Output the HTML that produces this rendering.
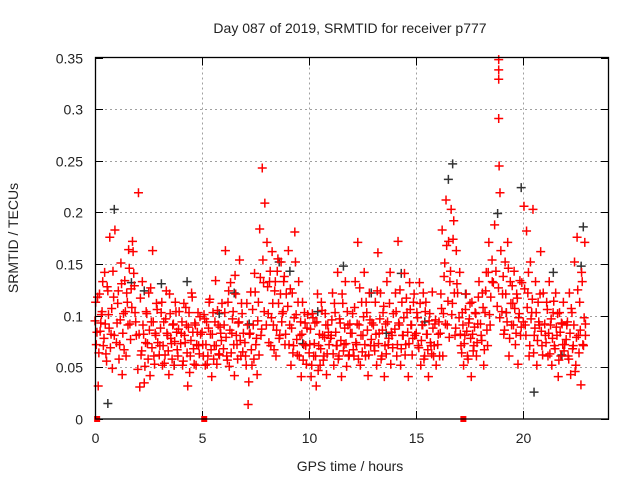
<!DOCTYPE html>
<html><head><meta charset="utf-8"><style>
body{margin:0;background:#fff}
svg{display:block;font-family:"Liberation Sans",sans-serif}
</style></head><body>
<svg id="chart" width="640" height="480"></svg>
<script>
const xTicks=[0,5,10,15,20];
const yTicks=[0,0.05,0.1,0.15,0.2,0.25,0.3,0.35];
const yTickLabels=["0","0.05","0.1","0.15","0.2","0.25","0.3","0.35"];
const redHours=[
0.03,0.09,0.15,0.21,0.27,0.33,0.39,0.45,0.51,0.57,0.63,0.69,0.75,0.81,0.87,0.93,
1.03,1.09,1.15,1.21,1.27,1.33,1.39,1.45,1.51,1.57,1.63,1.69,1.75,1.81,1.87,1.93,
2.03,2.09,2.15,2.21,2.27,2.33,2.39,2.45,2.51,2.57,2.63,2.69,2.75,2.81,2.87,2.93,
3.03,3.09,3.15,3.21,3.27,3.33,3.39,3.45,3.51,3.57,3.63,3.69,3.75,3.81,3.87,3.93,
4.03,4.09,4.15,4.21,4.27,4.33,4.39,4.45,4.51,4.57,4.63,4.69,4.75,4.81,4.87,4.93,
5.03,5.09,5.15,5.21,5.27,5.33,5.39,5.45,5.51,5.57,5.63,5.69,5.75,5.81,5.87,5.93,
6.03,6.09,6.15,6.21,6.27,6.33,6.39,6.45,6.51,6.57,6.63,6.69,6.75,6.81,6.87,6.93,
7.03,7.09,7.15,7.21,7.27,7.33,7.39,7.45,7.51,7.57,7.63,7.69,7.75,7.81,7.87,7.93,
8.03,8.09,8.15,8.21,8.27,8.33,8.39,8.45,8.51,8.57,8.63,8.69,8.75,8.81,8.87,8.93,
9.03,9.09,9.15,9.21,9.27,9.33,9.39,9.45,9.51,9.57,9.63,9.69,9.75,9.81,9.87,9.93,
10.03,10.09,10.15,10.21,10.27,10.33,10.39,10.45,10.51,10.57,10.63,10.69,10.75,10.81,10.87,10.93,
11.03,11.09,11.15,11.21,11.27,11.33,11.39,11.45,11.51,11.57,11.63,11.69,11.75,11.81,11.87,11.93,
12.03,12.09,12.15,12.21,12.27,12.33,12.39,12.45,12.51,12.57,12.63,12.69,12.75,12.81,12.87,12.93,
13.03,13.09,13.15,13.21,13.27,13.33,13.39,13.45,13.51,13.57,13.63,13.69,13.75,13.81,13.87,13.93,
14.03,14.09,14.15,14.21,14.27,14.33,14.39,14.45,14.51,14.57,14.63,14.69,14.75,14.81,14.87,14.93,
15.03,15.09,15.15,15.21,15.27,15.33,15.39,15.45,15.51,15.57,15.63,15.69,15.75,15.81,15.87,15.93,
16.03,16.09,16.15,16.21,16.27,16.33,16.39,16.45,16.51,16.57,16.63,16.69,16.75,16.81,16.87,16.93,
17.03,17.09,17.15,17.21,17.27,17.33,17.39,17.45,17.51,17.57,17.63,17.69,17.75,17.81,17.87,17.93,
18.03,18.09,18.15,18.21,18.27,18.33,18.39,18.45,18.55,18.85,18.85,18.85,18.85,18.87,18.91,18.95,
19.03,19.09,19.15,19.21,19.27,19.33,19.39,19.45,19.51,19.57,19.63,19.69,19.75,19.81,19.87,19.93,
20.03,20.09,20.15,20.21,20.27,20.33,20.39,20.45,20.51,20.57,20.63,20.69,20.75,20.81,20.87,20.93,
21.03,21.09,21.15,21.21,21.27,21.33,21.39,21.45,21.51,21.57,21.63,21.69,21.75,21.81,21.87,21.93,
22.03,22.09,22.15,22.21,22.27,22.33,22.39,22.45,22.51,22.57,22.63,22.69,22.75,22.81,22.87,22.9];
const redValues=[
.113,.084,.032,.121,.093,.104,.071,.142,.063,.128,.101,.176,.082,.049,.118,.183,
.093,.124,.072,.151,.043,.102,.134,.061,.113,.164,.092,.126,.172,.141,.103,.081,
.219,.031,.062,.133,.082,.051,.104,.073,.122,.042,.094,.163,.061,.083,.112,.074,
.071,.103,.052,.094,.062,.124,.081,.043,.102,.073,.091,.052,.113,.084,.061,.104,
.083,.052,.112,.074,.091,.032,.103,.061,.122,.084,.053,.091,.072,.103,.063,.082,
.072,.101,.052,.094,.061,.113,.082,.041,.103,.071,.134,.053,.091,.062,.083,.112,
.091,.163,.061,.113,.051,.132,.083,.104,.042,.121,.072,.093,.154,.061,.102,.083,
.061,.112,.014,.082,.123,.052,.091,.141,.072,.043,.113,.184,.081,.243,.132,.209,
.171,.102,.133,.071,.162,.091,.124,.061,.143,.112,.081,.152,.102,.133,.072,.121,
.163,.091,.052,.122,.071,.181,.101,.062,.133,.081,.041,.113,.072,.093,.053,.101,
.072,.041,.102,.061,.093,.032,.121,.071,.052,.113,.081,.061,.102,.043,.091,.072,
.081,.122,.052,.103,.071,.142,.061,.093,.041,.112,.072,.133,.051,.091,.062,.083,
.102,.061,.133,.072,.171,.091,.052,.113,.081,.142,.061,.103,.042,.122,.071,.093,
.071,.113,.052,.161,.083,.122,.061,.103,.041,.092,.133,.072,.112,.053,.081,.102,
.122,.061,.172,.091,.052,.113,.081,.141,.072,.103,.041,.132,.091,.062,.113,.081,
.103,.071,.132,.052,.091,.122,.061,.113,.082,.041,.102,.071,.123,.061,.092,.052,
.082,.061,.121,.183,.102,.151,.212,.091,.172,.133,.203,.112,.192,.081,.163,.122,
.142,.071,.103,.052,.081,.121,.061,.093,.112,.041,.082,.071,.103,.061,.092,.133,
.081,.122,.052,.103,.142,.071,.171,.091,.133,.348,.338,.329,.291,.245,.219,.163,
.121,.082,.152,.103,.171,.061,.133,.091,.112,.143,.072,.121,.053,.102,.081,.132,
.206,.091,.182,.122,.061,.152,.103,.203,.081,.133,.052,.113,.091,.162,.071,.122,
.081,.113,.061,.133,.091,.052,.103,.071,.122,.081,.041,.103,.061,.092,.113,.072,
.091,.061,.122,.043,.103,.071,.152,.052,.176,.081,.113,.033,.133,.071,.171,.092];
const redHours2=[
0.00,0.06,0.12,0.18,0.24,0.30,0.36,0.42,0.48,0.54,0.60,0.66,0.72,0.78,0.84,0.90,
1.00,1.06,1.12,1.18,1.24,1.30,1.36,1.42,1.48,1.54,1.60,1.66,1.72,1.78,1.84,1.90,
2.00,2.06,2.12,2.18,2.24,2.30,2.36,2.42,2.48,2.54,2.60,2.66,2.72,2.78,2.84,2.90,
3.00,3.06,3.12,3.18,3.24,3.30,3.36,3.42,3.48,3.54,3.60,3.66,3.72,3.78,3.84,3.90,
4.00,4.06,4.12,4.18,4.24,4.30,4.36,4.42,4.48,4.54,4.60,4.66,4.72,4.78,4.84,4.90,
5.00,5.06,5.12,5.18,5.24,5.30,5.36,5.42,5.48,5.54,5.60,5.66,5.72,5.78,5.84,5.90,
6.00,6.06,6.12,6.18,6.24,6.30,6.36,6.42,6.48,6.54,6.60,6.66,6.72,6.78,6.84,6.90,
7.00,7.06,7.12,7.18,7.24,7.30,7.36,7.42,7.48,7.54,7.60,7.66,7.72,7.78,7.84,7.90,
8.00,8.06,8.12,8.18,8.24,8.30,8.36,8.42,8.48,8.54,8.60,8.66,8.72,8.78,8.84,8.90,
9.00,9.06,9.12,9.18,9.24,9.30,9.36,9.42,9.48,9.54,9.60,9.66,9.72,9.78,9.84,9.90,
10.00,10.06,10.12,10.18,10.24,10.30,10.36,10.42,10.48,10.54,10.60,10.66,10.72,10.78,10.84,10.90,
11.00,11.06,11.12,11.18,11.24,11.30,11.36,11.42,11.48,11.54,11.60,11.66,11.72,11.78,11.84,11.90,
12.00,12.06,12.12,12.18,12.24,12.30,12.36,12.42,12.48,12.54,12.60,12.66,12.72,12.78,12.84,12.90,
13.00,13.06,13.12,13.18,13.24,13.30,13.36,13.42,13.48,13.54,13.60,13.66,13.72,13.78,13.84,13.90,
14.00,14.06,14.12,14.18,14.24,14.30,14.36,14.42,14.48,14.54,14.60,14.66,14.72,14.78,14.84,14.90,
15.00,15.06,15.12,15.18,15.24,15.30,15.36,15.42,15.48,15.54,15.60,15.66,15.72,15.78,15.84,15.90,
16.00,16.06,16.12,16.18,16.24,16.30,16.36,16.42,16.48,16.54,16.60,16.66,16.72,16.78,16.84,16.90,
17.00,17.06,17.12,17.18,17.24,17.30,17.36,17.42,17.48,17.54,17.60,17.66,17.72,17.78,17.84,17.90,
18.00,18.06,18.12,18.18,18.24,18.30,18.36,18.42,18.48,18.54,18.60,18.66,18.72,18.78,18.84,18.90,
19.00,19.06,19.12,19.18,19.24,19.30,19.36,19.42,19.48,19.54,19.60,19.66,19.72,19.78,19.84,19.90,
20.00,20.06,20.12,20.18,20.24,20.30,20.36,20.42,20.48,20.54,20.60,20.66,20.72,20.78,20.84,20.90,
21.00,21.06,21.12,21.18,21.24,21.30,21.36,21.42,21.48,21.54,21.60,21.66,21.72,21.78,21.84,21.90,
22.00,22.06,22.12,22.18,22.24,22.30,22.36,22.42,22.48,22.54,22.60,22.66,22.72,22.78,22.84,22.90];
const redValues2=[
.095,.072,.118,.064,.085,.101,.133,.078,.092,.056,.124,.088,.069,.107,.143,.081,
.074,.112,.058,.096,.131,.083,.067,.104,.122,.091,.146,.077,.108,.162,.129,.094,
.048,.082,.117,.066,.091,.035,.074,.102,.058,.086,.127,.069,.094,.053,.081,.106,
.062,.088,.113,.071,.054,.097,.083,.066,.121,.078,.058,.092,.075,.104,.067,.087,
.073,.094,.056,.081,.108,.064,.089,.045,.076,.118,.068,.093,.052,.084,.071,.099,
.084,.061,.097,.072,.053,.088,.116,.067,.082,.058,.094,.071,.105,.063,.089,.076,
.068,.103,.079,.057,.124,.086,.064,.097,.072,.139,.081,.058,.094,.076,.112,.065,
.074,.052,.091,.036,.083,.067,.106,.058,.123,.078,.095,.062,.137,.087,.154,.104,
.091,.128,.074,.143,.098,.112,.067,.133,.086,.155,.078,.121,.094,.104,.138,.082,
.109,.072,.126,.088,.064,.098,.152,.077,.113,.061,.094,.082,.057,.103,.071,.088,
.064,.087,.052,.098,.073,.061,.094,.047,.082,.068,.105,.057,.079,.091,.063,.084,
.078,.096,.063,.112,.084,.071,.058,.097,.076,.121,.066,.088,.073,.104,.061,.092,
.083,.067,.108,.074,.092,.058,.127,.081,.065,.099,.072,.113,.086,.062,.096,.077,
.091,.066,.082,.124,.073,.097,.058,.086,.109,.071,.063,.094,.078,.142,.084,.069,
.087,.104,.072,.093,.125,.068,.081,.098,.062,.117,.084,.073,.106,.091,.078,.121,
.083,.098,.069,.112,.076,.091,.058,.104,.082,.067,.095,.074,.063,.088,.071,.096,
.072,.094,.083,.107,.061,.138,.092,.168,.114,.079,.143,.101,.174,.122,.088,.131,
.098,.082,.064,.091,.073,.106,.085,.058,.097,.078,.113,.066,.089,.102,.074,.118,
.092,.076,.108,.067,.124,.086,.142,.101,.118,.154,.132,.188,.143,.109,.127,.098,
.104,.138,.086,.121,.094,.146,.078,.112,.129,.091,.107,.083,.117,.098,.134,.089,
.094,.126,.081,.108,.142,.071,.097,.116,.064,.088,.103,.076,.094,.121,.085,.062,
.092,.074,.106,.083,.063,.097,.078,.114,.068,.089,.102,.057,.084,.093,.072,.066,
.077,.094,.058,.083,.107,.068,.091,.046,.079,.125,.064,.086,.142,.072,.098,.081];
const blackHours=[0.9,2.3,3.1,4.3,6.5,8.6,9.1,11.6,12.9,14.3,16.5,16.7,17.3,18.8,19.9,20.5,21.4,22.8,22.7,0.6,1.7,5.8,7.2,10.4,13.6,15.4,19.2,21.8,3.7,9.7];
const blackValues=[.203,.124,.131,.133,.122,.152,.143,.148,.122,.141,.232,.247,.121,.199,.224,.026,.142,.186,.148,.015,.132,.102,.092,.104,.083,.094,.103,.062,.052,.073];
const markerHours=[0.1,5.1,17.2];
const markerValues=[0,0,0];

const NS="http://www.w3.org/2000/svg";
const svg=document.getElementById('chart');
const L=95,R=609,T=57.5,B=419,XMAX=24,YMAX=0.35;
const sx=h=>L+h/XMAX*(R-L);
const sy=v=>B-v/YMAX*(B-T);
function mk(tag,attrs,parent){const e=document.createElementNS(NS,tag);for(const k in attrs)e.setAttribute(k,attrs[k]);(parent||svg).appendChild(e);return e;}

const grid=mk('g',{});


yTicks.forEach((v,i)=>{
  const y=Math.round(sy(v))+0.5;
  if(i>0&&i<yTicks.length-1){const g=mk('line',{x1:L,x2:R,y1:y,y2:y,stroke:'#a0a0a0','stroke-dasharray':'2,3'},grid);}
  mk('line',{x1:L,x2:L+8,y1:y,y2:y,stroke:'#000'});
  mk('line',{x1:R-8,x2:R,y1:y,y2:y,stroke:'#000'});
  const t=mk('text',{x:L-12,y:y+5,'text-anchor':'end','font-size':14,fill:'#222'});
  t.textContent=yTickLabels[i];
  
  
});
xTicks.forEach(h=>{
  const x=Math.round(sx(h))+0.5;
  if(h>0){const g=mk('line',{x1:x,x2:x,y1:T,y2:B,stroke:'#a0a0a0','stroke-dasharray':'2,3'},grid);}
  mk('line',{x1:x,x2:x,y1:B-8,y2:B,stroke:'#000'});
  mk('line',{x1:x,x2:x,y1:T,y2:T+8,stroke:'#000'});
  const t=mk('text',{x:x,y:B+24,'text-anchor':'middle','font-size':14,fill:'#222'});
  t.textContent=String(h);
  
  
});

function cross(h,v,color,name){
  const x=sx(h),y=sy(v);
  const p=mk('path',{d:`M${x-4.5},${y}H${x+4.5}M${x},${y-4.5}V${y+4.5}`,stroke:color,'stroke-width':1.5,fill:'none'});
  
  
}
blackHours.forEach((h,i)=>cross(h,blackValues[i],'#333','black-point'));
redHours2.forEach((h,i)=>cross(h,redValues2[i],'#f00','red-point'));
redHours.forEach((h,i)=>cross(h,redValues[i],'#f00','red-point'));
markerHours.forEach((h,i)=>{
  const r=mk('rect',{x:sx(h)-3,y:sy(markerValues[i])-3,width:6,height:6,fill:'#f00'});
  
  
});

const frame=mk('rect',{x:L+0.5,y:T,width:R-L-1,height:B-T,fill:'none',stroke:'#000','stroke-width':1.3});



const title=mk('text',{x:350,y:33,'text-anchor':'middle','font-size':14,fill:'#222'});
title.textContent='Day 087 of 2019, SRMTID for receiver p777';


const xl=mk('text',{x:350,y:471,'text-anchor':'middle','font-size':14,fill:'#222'});
xl.textContent='GPS time / hours';


const yl=mk('text',{x:0,y:0,'text-anchor':'middle','font-size':14,fill:'#222',transform:'translate(18,238) rotate(-90)'});
yl.textContent='SRMTID / TECUs';


</script>
</body></html>
